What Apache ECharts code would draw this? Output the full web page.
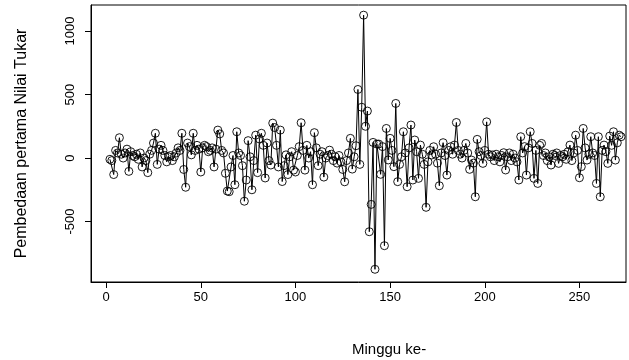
<!DOCTYPE html>
<html><head><meta charset="utf-8">
<script src="https://cdn.jsdelivr.net/npm/echarts@6/dist/echarts.min.js"></script>
<style>html,body{margin:0;padding:0;background:#fff}#c{width:629px;height:360px}</style>
</head><body><div id="c"></div>
<script>
const startWeek = 2;
const values = [
  -10, -20, -130, 60, 40, 160, 30, 0, 40, 70,
  -105, 50, 20, 10, 30, -10, 40, -70, 0, -20,
  -115, 30, 60, 118, 195, -50, 70, 100, 60, 20,
  -30, 10, 20, -20, 10, 40, 80, 60, 195, -90,
  -230, 118, 90, 25, 195, 60, 100, 70, -110, 80,
  100, 90, 50, 60, 80, -70, 70, 220, 190, 60,
  40, -120, -260, -265, -70, 20, -210, 207, 40, 20,
  -60, -340, -173, 137, 10, -250, -20, 180, -115, 150,
  195, 100, -157, 118, -20, -55, 275, 240, 100, -70,
  220, -185, -60, 25, -130, 10, 50, -95, -110, 20,
  90, 278, 60, -95, 100, 0, 50, -210, 200, 80,
  -60, 30, 50, -150, 0, 20, 62, 30, -20, 10,
  -40, 20, -30, -90, -187, -20, 40, 155, -87, 10,
  97, 540, -50, 400, 1125, 250, 370, -580, -365, 123,
  -876, 110, 110, -128, 90, -690, 233, -15, 155, 60,
  -68, 430, -186, -50, 10, 207, 40, -226, 80, 260,
  -173, 142, 50, -160, 102, 30, -50, -388, -30, 60,
  24, 89, 30, -40, -218, 40, 121, 20, -134, 60,
  89, 30, 102, 280, 60, 30, 0, 60, 115, 40,
  -89, -16, -40, -305, 147, 50, 20, -42, 60, 285,
  30, 10, 24, -20, 30, 10, -30, 20, 42, -94,
  10, 40, -20, 30, 0, -30, -173, 168, 40, 90,
  -134, 80, 207, 115, -160, 60, -200, 100, 115, 20,
  40, -20, 10, -55, 30, 20, 40, -42, 20, 10,
  30, -10, 50, 102, -20, 40, 180, 60, -155, -68,
  233, 80, -16, 30, 168, 40, 20, -200, 168, -305,
  60, 102, 50, -42, 173, 100, 207, -16, 120, 180,
  168
];
const xTicks = [0, 50, 100, 150, 200, 250];
const yTicks = [-500, 0, 500, 1000];
const xTitle = 'Minggu ke-';
const yTitle = 'Pembedaan pertama Nilai Tukar';

const data = values.map((v, i) => [startWeek + i, v]);
const font = 'Liberation Sans, Arial, sans-serif';
const chart = echarts.init(document.getElementById('c'), null, {renderer: 'canvas'});
chart.setOption({
  animation: false,
  backgroundColor: '#fff',
  grid: {left: 91, right: 3, top: 5, bottom: 78, show: true, borderColor: '#000', borderWidth: 1, outerBoundsMode: 'none'},
  xAxis: {
    type: 'value', min: -8, max: 274.6,
    axisLine: {show: true, onZero: false, lineStyle: {color: '#000', width: 1}},
    axisTick: {show: true, inside: false, length: 6, customValues: xTicks, lineStyle: {color: '#000'}},
    axisLabel: {show: true, customValues: xTicks, margin: 9, color: '#000', fontSize: 13, fontFamily: font,
      formatter: v => String(v)},
    splitLine: {show: false}
  },
  yAxis: {
    type: 'value', min: -976, max: 1205,
    name: yTitle, nameLocation: 'middle', nameRotate: 90, nameGap: 61,
    nameTextStyle: {color: '#000', fontSize: 16, fontFamily: font},
    axisLine: {show: true, onZero: false, lineStyle: {color: '#000', width: 1}},
    axisTick: {show: true, inside: false, length: 6, customValues: yTicks, lineStyle: {color: '#000'}},
    axisLabel: {show: true, customValues: yTicks, rotate: 90, margin: 14, color: '#000', fontSize: 13, fontFamily: font,
      formatter: v => String(v)},
    splitLine: {show: false}
  },
  graphic: [{
    type: 'text', left: 352, top: 342,
    style: {text: xTitle, fill: '#000', font: '15px ' + font}
  }],
  series: [{
    type: 'line', data: data,
    symbol: 'circle', symbolSize: 8,
    lineStyle: {color: '#000', width: 1},
    itemStyle: {color: 'rgba(0,0,0,0)', borderColor: '#000', borderWidth: 0.9},
    showAllSymbol: true
  }]
});
</script></body></html>
